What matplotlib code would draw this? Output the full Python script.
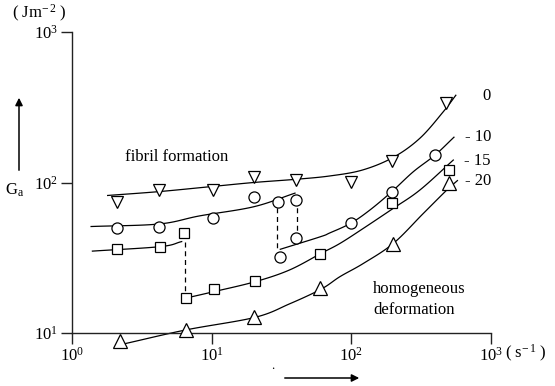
import matplotlib
matplotlib.use("Agg")
import matplotlib.pyplot as plt
import numpy as np
from matplotlib.ticker import FixedLocator, NullLocator, FixedFormatter

plt.rcParams['font.family'] = ['Liberation Serif', 'DejaVu Serif']
plt.rcParams['mathtext.fontset'] = 'custom'
plt.rcParams['mathtext.rm'] = 'Liberation Serif'
plt.rcParams['mathtext.it'] = 'Liberation Serif:italic'

# measured points (strain rate, s^-1 ; G_a, J m^-2) for each temperature
tri_down_x = [2.1, 4.2, 10.3, 20, 40, 100, 195, 480]
tri_down_y = [74, 89, 89, 109, 104, 101, 140, 340]

circ_x = [2.1, 4.2, 10.3, 20, 30, 40, 40, 31, 100, 195, 400]
circ_y = [50, 51, 58, 80, 74, 76, 43, 32, 54, 86, 152]

sq_x = [2.1, 4.3, 6.3, 6.5, 10.4, 20.5, 60, 195, 500]
sq_y = [36, 37, 46, 17.2, 19.6, 22, 33.5, 73, 122]

tri_up_x = [2.2, 6.5, 20, 60, 200, 500]
tri_up_y = [8.85, 10.5, 12.8, 20, 39, 100]

# hand-drawn trend curves
curve0_x = [1.8, 4.2, 10, 20, 40, 70, 120, 200, 310, 455, 560]
curve0_y = [82, 87, 94, 100, 105, 110.5, 121, 147, 197, 295, 380]

curve10a_x = [1.37, 4.2, 8.2, 20, 39.5]
curve10a_y = [51, 53, 60, 69, 85]
curve10b_x = [31, 60, 70, 99, 136, 195, 278, 397, 543]
curve10b_y = [36, 43.6, 46.2, 53.6, 65.7, 87, 118, 152, 200]

curve15a_x = [1.4, 4.3, 6.1]
curve15a_y = [35, 37.5, 40.5]
curve15b_x = [6.8, 10.3, 20.4, 36, 61, 83, 122, 199, 310, 537]
curve15b_y = [17.2, 18.8, 21.9, 26.2, 33.9, 39.4, 49.6, 67.2, 89.2, 141]

curve20_x = [2.4, 6.6, 20.4, 36, 61, 83, 122, 200, 326, 482, 575]
curve20_y = [8.5, 10.5, 12.7, 15.6, 19.6, 23.7, 29, 39.4, 62, 89, 103]

# transitions between the two branches
jump_x = [6.4, 29.5, 40.5]
jump_top = [40.5, 78, 78]
jump_bottom = [17.2, 36, 44.5]

temp_labels = ["0", "- 10", "- 15", "- 20"]
temp_label_y = [376, 200, 139, 102]

tick_vals = [1, 10, 100, 1000]
tick_labels = ["10$^{0}$", "10$^{1}$", "10$^{2}$", "10$^{3}$"]


def smooth_loglog(xs, ys, n=12):
    """Catmull-Rom pass through the points in log-log space, for a pen-drawn look."""
    lx, ly = np.log10(xs), np.log10(ys)
    if len(lx) < 3:
        return xs, ys
    px = np.concatenate([[2 * lx[0] - lx[1]], lx, [2 * lx[-1] - lx[-2]]])
    py = np.concatenate([[2 * ly[0] - ly[1]], ly, [2 * ly[-1] - ly[-2]]])
    outx, outy = [], []
    t = np.linspace(0, 1, n, endpoint=False)
    for i in range(1, len(px) - 2):
        for p, out in ((px, outx), (py, outy)):
            p0, p1, p2, p3 = p[i - 1], p[i], p[i + 1], p[i + 2]
            out.extend(0.5 * (2 * p1 + (-p0 + p2) * t + (2 * p0 - 5 * p1 + 4 * p2 - p3) * t ** 2
                              + (-p0 + 3 * p1 - 3 * p2 + p3) * t ** 3))
    outx.append(lx[-1])
    outy.append(ly[-1])
    return 10 ** np.array(outx), 10 ** np.array(outy)


fig = plt.figure(figsize=(5.55, 3.86), dpi=100)
ax = fig.add_axes([72 / 555, 53 / 386, 419 / 555, 301 / 386])
ax.set_xscale('log')
ax.set_yscale('log')
ax.set_xlim(1, 1000)
ax.set_ylim(10, 1000)

for cx, cy in [(curve0_x, curve0_y), (curve10a_x, curve10a_y), (curve10b_x, curve10b_y),
               (curve15a_x, curve15a_y), (curve15b_x, curve15b_y), (curve20_x, curve20_y)]:
    sx, sy = smooth_loglog(cx, cy)
    ax.plot(sx, sy, color='black', lw=0.9, clip_on=False)

for x, y0, y1 in zip(jump_x, jump_top, jump_bottom):
    ax.plot([x, x], [y0, y1], color='black', lw=0.9, linestyle=(0, (4, 3)))

mk = dict(linestyle='none', mfc='white', mec='black', mew=0.9, clip_on=False, zorder=3)
ax.plot(tri_down_x, tri_down_y, marker='v', ms=9, **mk)
ax.plot(circ_x, circ_y, marker='o', ms=8, **mk)
ax.plot(sq_x, sq_y, marker='s', ms=6.5, **mk)
ax.plot(tri_up_x, tri_up_y, marker='^', ms=9.5, **mk)

fs = 12
for lab, y in zip(temp_labels, temp_label_y):
    ax.text(1000, y, lab, ha='right', va='center', fontsize=fs, clip_on=False)

ax.text(2.4, 148, "fibril formation", ha='left', va='center', fontsize=fs)
ax.text(143, 19.6, "homogeneous", ha='left', va='center', fontsize=fs)
ax.text(143, 14.2, "deformation", ha='left', va='center', fontsize=fs)

for side in ['top', 'right']:
    ax.spines[side].set_visible(False)
for side in ['left', 'bottom']:
    ax.spines[side].set_linewidth(1.0)
    ax.spines[side].set_color('#222222')

for axis in (ax.xaxis, ax.yaxis):
    axis.set_major_locator(FixedLocator(tick_vals))
    axis.set_minor_locator(NullLocator())
ax.xaxis.set_major_formatter(FixedFormatter(tick_labels))
ax.yaxis.set_major_formatter(FixedFormatter(tick_labels))
ax.tick_params(which='major', direction='out', length=8, width=1.0, color='#222222',
               labelsize=fs, pad=2)

# unit labels and axis arrows around the frame
fig.text(39 / 555, 1 - 13 / 386, "( Jm$^{-\\,2}$ )", ha='center', va='center', fontsize=fs)
fig.text(505 / 555, 1 - 353 / 386, "( s$^{-\\,1}$ )", ha='left', va='center', fontsize=fs)
fig.text(15 / 555, 1 - 190 / 386, "G$_{\\rm a}$", ha='center', va='center', fontsize=fs)
fig.text(273 / 555, 1 - 366 / 386, ".", ha='center', va='center', fontsize=9)

fig.patches.append(matplotlib.patches.FancyArrowPatch(
    (19 / 555, 1 - 173 / 386), (19 / 555, 1 - 95 / 386), transform=fig.transFigure,
    arrowstyle='-|>', mutation_scale=11, lw=1.1, color='black'))
fig.patches.append(matplotlib.patches.FancyArrowPatch(
    (282 / 555, 1 - 378 / 386), (362 / 555, 1 - 378 / 386), transform=fig.transFigure,
    arrowstyle='-|>', mutation_scale=11, lw=1.1, color='black'))

fig.savefig("out.png", dpi=100)
